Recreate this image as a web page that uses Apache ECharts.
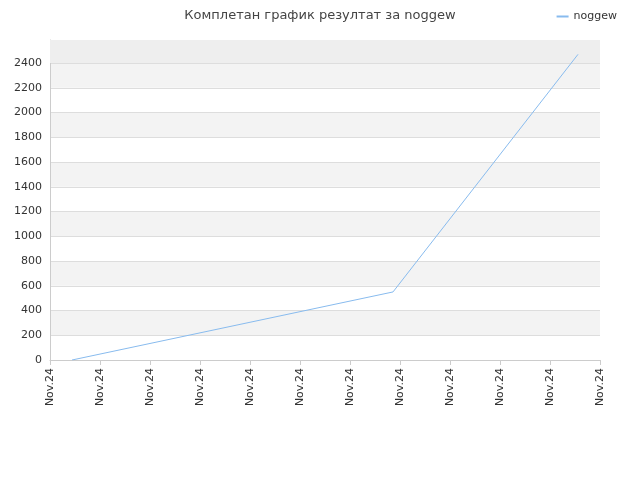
<!DOCTYPE html>
<html><head><meta charset="utf-8">
<script src="https://cdn.jsdelivr.net/npm/echarts@6/dist/echarts.min.js"></script>
<style>html,body{margin:0;padding:0;background:#fff}#c{width:640px;height:480px}</style>
</head><body><div id="c"></div>
<script>
var title = 'Комплетан график резултат за noggew';
var seriesName = 'noggew';
var xTickLabels = ['Nov.24','Nov.24','Nov.24','Nov.24','Nov.24','Nov.24','Nov.24','Nov.24','Nov.24','Nov.24','Nov.24','Nov.24'];
var xPositions = [0.44, 6.86, 10.56];
var values = [0, 550, 2470];
var chart = echarts.init(document.getElementById('c'));
chart.setOption({
  animation:false,
  title:{text:title,left:'center',top:4,textStyle:{fontSize:13,fontWeight:'normal',color:'#444',fontFamily:'DejaVu Sans'}},
  legend:{right:18,top:6,itemWidth:12,itemHeight:2,icon:'rect',textStyle:{fontSize:11,color:'#333',fontFamily:'DejaVu Sans'},data:[seriesName]},
  grid:{left:50,right:40,top:40,bottom:120},
  xAxis:{type:'value',min:0,max:11,interval:1,
    axisLine:{lineStyle:{color:'#ccc'}},axisTick:{show:true,lineStyle:{color:'#ccc'}},
    splitLine:{show:false},
    axisLabel:{rotate:90,fontSize:11,color:'#333',fontFamily:'DejaVu Sans',showMaxLabel:true,showMinLabel:true,formatter:function(v){return xTickLabels[Math.round(v)];}}},
  yAxis:{type:'value',min:0,max:2586,interval:200,
    axisLine:{show:true,lineStyle:{color:'#ccc'}},axisTick:{show:false},
    splitLine:{lineStyle:{color:'#ddd'}},
    splitArea:{show:true,areaStyle:{color:['#ffffff','#f3f3f3']}},
    axisLabel:{fontSize:11,color:'#333',fontFamily:'DejaVu Sans',showMaxLabel:false,formatter:function(v){return String(v);}}},
  series:[{name:seriesName,type:'line',symbol:'none',
    lineStyle:{width:1,color:'#88bbee'},itemStyle:{color:'#88bbee'},
    data:xPositions.map(function(x,i){return [x,values[i]];}),
    markArea:{silent:true,itemStyle:{color:'#eeeeee'},data:[[{yAxis:2400},{yAxis:2586}]]}}]
});
</script></body></html>
